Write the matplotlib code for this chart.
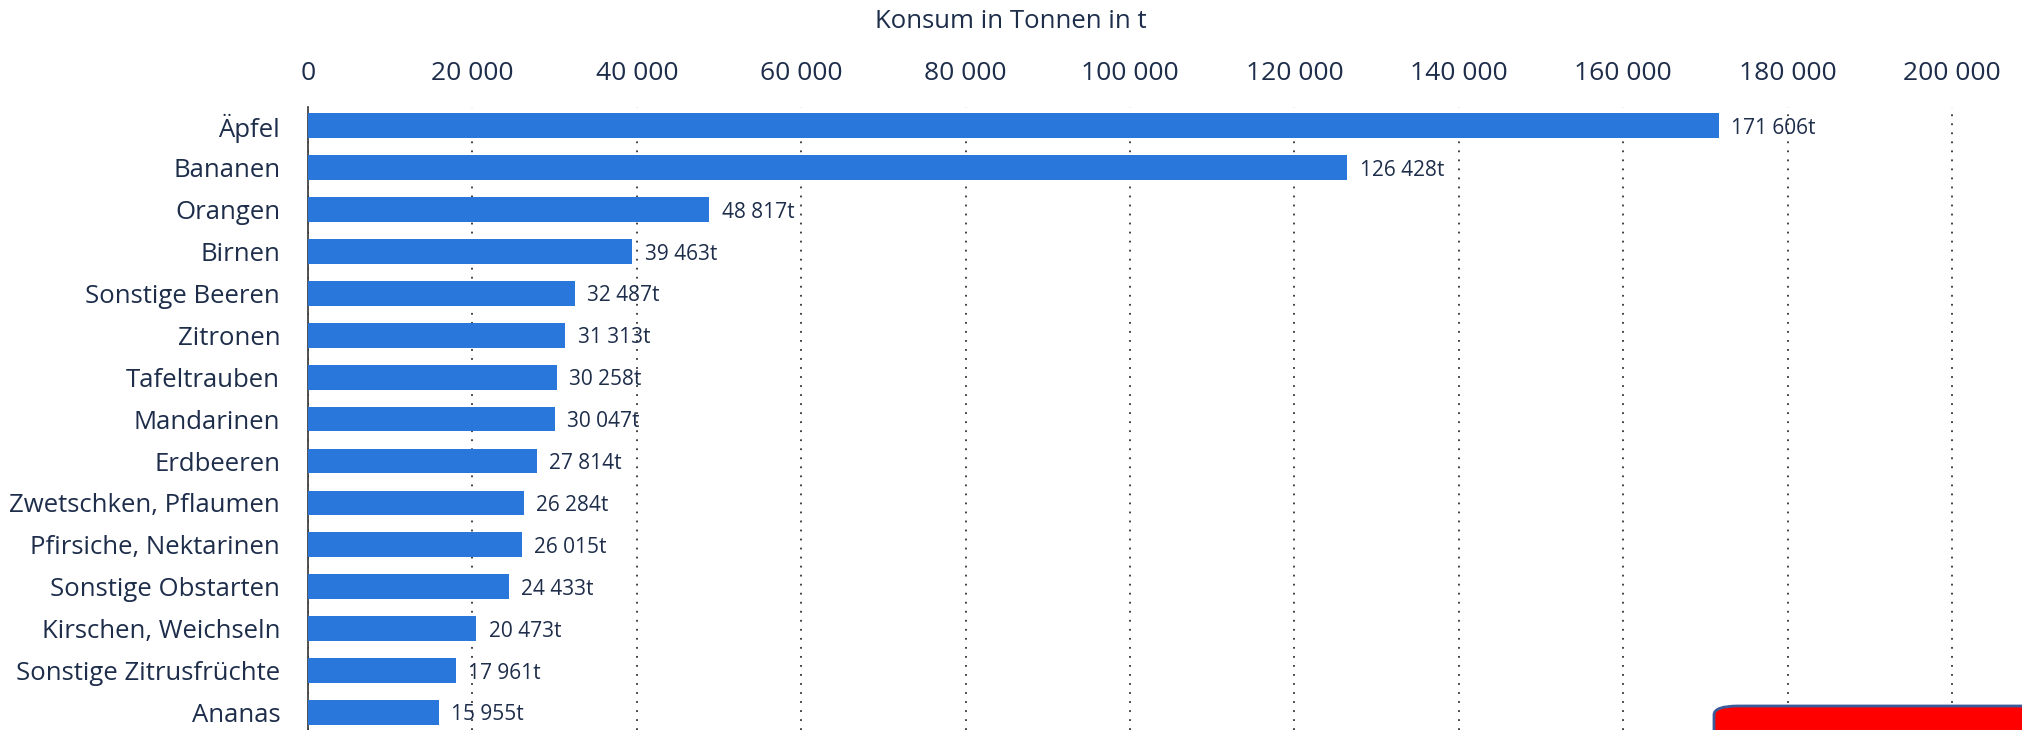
import matplotlib.pyplot as plt
from matplotlib.patches import FancyBboxPatch

categories = ["Äpfel", "Bananen", "Orangen", "Birnen", "Sonstige Beeren", "Zitronen",
              "Tafeltrauben", "Mandarinen", "Erdbeeren", "Zwetschken, Pflaumen",
              "Pfirsiche, Nektarinen", "Sonstige Obstarten", "Kirschen, Weichseln",
              "Sonstige Zitrusfrüchte", "Ananas"]
values = [171606, 126428, 48817, 39463, 32487, 31313, 30258, 30047, 27814,
          26284, 26015, 24433, 20473, 17961, 15955]
ticks = [0, 20000, 40000, 60000, 80000, 100000, 120000, 140000, 160000, 180000, 200000]

def fmt(v):
    return f"{v:,}".replace(",", " ")

plt.rcParams['font.family'] = ['Open Sans', 'DejaVu Sans']
navy = "#1d2d4a"
blue = "#2a77dc"

fig = plt.figure(figsize=(20.22, 7.3), dpi=100)
ax = fig.add_axes([308 / 2022, 0, 1 - 308 / 2022, 1 - 107 / 730])

y = list(range(len(categories)))
ax.barh(y, values, height=0.59, color=blue, zorder=3)
for yi, v in zip(y, values):
    ax.text(v + 1500, yi + 0.06, fmt(v) + "t", va="center", ha="left", fontsize=15, color=navy, zorder=4)

ax.set_xlim(0, 208500)
ax.set_ylim(14.42, -0.45)
ax.set_yticks(y)
ax.set_yticklabels(categories, fontsize=18.5, color=navy)
ax.set_xticks(ticks)
ax.set_xticklabels([fmt(t) for t in ticks], fontsize=19, color=navy)
ax.xaxis.tick_top()
ax.tick_params(axis="x", length=0, pad=15)
ax.tick_params(axis="y", length=0, pad=20)
ax.grid(axis="x", linestyle=(0, (1, 4)), color="#333333", linewidth=1.3, zorder=0)
for s in ["top", "right", "bottom"]:
    ax.spines[s].set_visible(False)
ax.spines["left"].set_color("#333333")
ax.spines["left"].set_linewidth(1.2)

fig.text(0.5, 1 - 22 / 730, "Konsum in Tonnen in t", ha="center", va="center", fontsize=18.5, color=navy)

box = FancyBboxPatch((1714 / 2022, -0.2), 0.3, 0.2 + (730 - 706) / 730,
                     boxstyle="round,pad=0,rounding_size=0.012", transform=fig.transFigure,
                     facecolor="#ff0000", edgecolor="#3a5a9a", linewidth=2, clip_on=False)
fig.patches.append(box)

fig.savefig("out.png", dpi=100)
